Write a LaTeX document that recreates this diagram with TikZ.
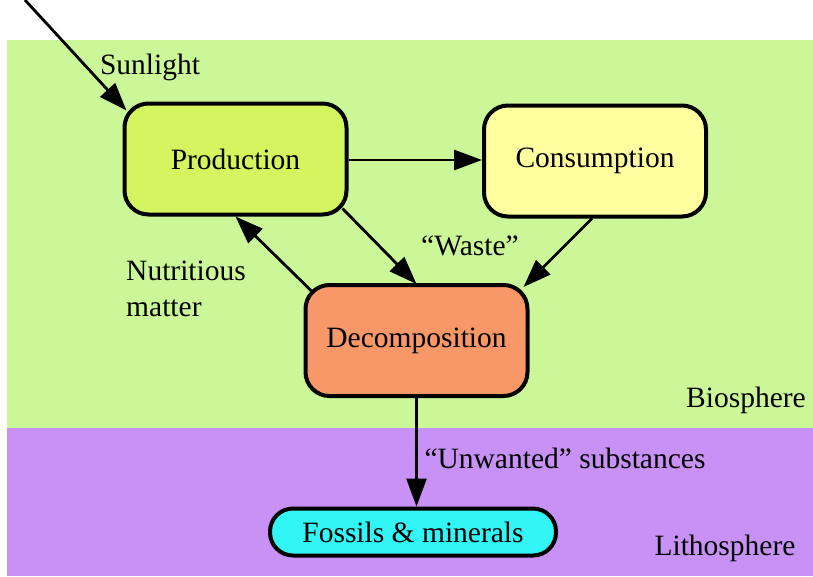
\documentclass[tikz,border=0pt]{standalone}
\usepackage{fontspec}
\setmainfont{Liberation Serif}
\usetikzlibrary{arrows.meta}
\definecolor{biogreen}{RGB}{204,247,153}
\definecolor{lithopurple}{RGB}{200,145,245}
\definecolor{prodfill}{RGB}{212,245,95}
\definecolor{consfill}{RGB}{255,255,160}
\definecolor{decofill}{RGB}{248,152,104}
\definecolor{fossfill}{RGB}{50,245,245}
\tikzset{
  txt/.style={font=\fontsize{29.5}{34}\selectfont},
  proc/.style={txt, draw=black, line width=4pt, rounded corners=24pt, minimum width=222pt, minimum height=111pt},
  flow/.style={line width=2.8pt, -{Triangle[length=28pt,width=20pt]}},
  lbl/.style={txt, inner sep=0pt}
}
\begin{document}
\begin{tikzpicture}[x=1pt,y=-1pt]
\useasboundingbox (0,0) rectangle (813,576);
\fill[white] (0,0) rectangle (813,576);
\fill[biogreen] (7,40) rectangle (813,428);
\fill[lithopurple] (7,428) rectangle (813,576);

\node[proc, fill=prodfill] (prod) at (235.5,159) {Production};
\node[proc, fill=consfill] (cons) at (595,161) {Consumption};
\node[proc, fill=decofill] (deco) at (416.5,340.5) {Decomposition};
\node[txt, draw=black, line width=4pt, rounded corners=23pt, fill=fossfill, minimum width=286pt, minimum height=47pt] (foss) at (413,532) {Fossils \& minerals};

\coordinate (sun) at (25,0);
\draw[flow] (sun) -- ([xshift=4pt,yshift=-9pt]prod.north west);
\draw[flow] (prod.east |- 0,160) -- (cons.west |- 0,160);
\draw[flow] ([xshift=-6pt,yshift=8pt]prod.south east) -- (deco.north |- 0,284);
\draw[flow] ([xshift=-3pt]cons.south) -- ([xshift=-6pt,yshift=-4pt]deco.north east);
\draw[flow] ([xshift=8pt,yshift=-8pt]deco.north west) -- (prod.south);
\draw[flow] (deco.south) -- (foss.north -| deco.south);

\node[lbl] (sunl) at (150,67) {Sunlight};
\node[lbl] (waste) at (470,246) {“Waste”};
\node[lbl, align=left, anchor=west, font=\fontsize{29.5}{36}\selectfont] (nut) at (126,289) {Nutritious\\matter};
\node[lbl] (bio) at (746,400) {Biosphere};
\node[lbl] (unw) at (565,458) {“Unwanted” substances};
\node[lbl] (lith) at (725,548) {Lithosphere};
\end{tikzpicture}
\end{document}
